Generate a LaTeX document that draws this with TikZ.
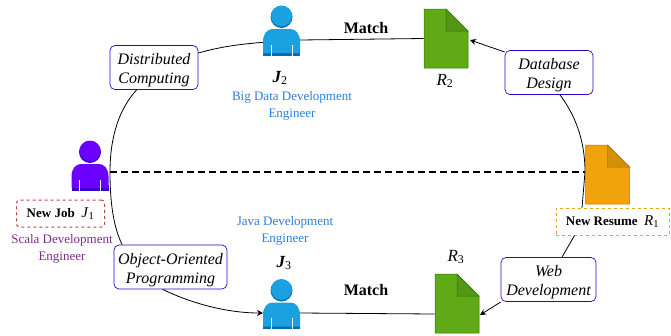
\documentclass[tikz,border=0pt]{standalone}
\usepackage{fontspec}
\setmainfont{Liberation Serif}
\usetikzlibrary{arrows.meta}
\definecolor{jobpurple}{HTML}{6A00FF}
\definecolor{jobdark}{HTML}{3700CC}
\definecolor{jobblue}{HTML}{1BA1E2}
\definecolor{jobbluedark}{HTML}{006EAF}
\definecolor{resgreen}{HTML}{60A917}
\definecolor{resgreendark}{HTML}{2D7600}
\definecolor{resorange}{HTML}{F0A30A}
\definecolor{resorangedark}{HTML}{BD7000}
\definecolor{scalatext}{HTML}{7F2A8A}
\definecolor{titleblue}{HTML}{2A7FD8}
\tikzset{
  skillbox/.style={draw=jobdark, line width=0.7pt, rounded corners=5pt, fill=white, align=center, font=\fontsize{16}{19}\selectfont\itshape, inner sep=0pt, text height=36pt},
  anchorbox/.style={inner sep=0pt, outer sep=0pt, minimum width=#1},
  titlelabel/.style={align=center, font=\fontsize{13}{17.5}\selectfont},
  namelabel/.style={font=\fontsize{17}{20}\selectfont\itshape},
  matchlabel/.style={font=\fontsize{16}{19}\selectfont\bfseries},
  newlabel/.style={dashed, line width=1pt, inner sep=0pt, font=\fontsize{13}{15}\selectfont},
  link/.style={line width=0.8pt, -{Stealth[length=6pt,width=6pt]}},
  plainlink/.style={line width=0.8pt},
  pics/person/.style n args={2}{code={
    \fill[#2] (-18.5,0) -- (18.5,0) -- (18.5,-6) -- (-18.5,-6) -- cycle;
    \fill[#1] (-18.5,-2.5) -- (-18.5,-14) .. controls (-18.5,-22) and (-14,-26.5) .. (-9,-26.5) -- (9,-26.5) .. controls (14,-26.5) and (18.5,-22) .. (18.5,-14) -- (18.5,-2.5) -- cycle;
    \fill[#2] (0,-38.5) circle (11);
    \fill[#1] (0,-39.5) circle (10.5);
    \fill[white] (-11,-11) rectangle (-10.3,0);
    \fill[white] (10.3,-11) rectangle (11,0);
  }},
  pics/resume/.style n args={2}{code={
    \fill[#1, draw=#2, line width=0.5pt] (-22,-29.5) -- (0,-29.5) -- (22,-7.5) -- (22,29.5) -- (-22,29.5) -- cycle;
    \fill[#1!88!black, draw=#2, line width=0.5pt] (0,-29.5) -- (22,-7.5) -- (0,-7.5) -- cycle;
  }}
}
\begin{document}
\begin{tikzpicture}[x=1pt,y=-1pt]
  \useasboundingbox (0,0) rectangle (671,335);
  % people and resumes
  \node[anchorbox=40pt, minimum height=53pt] (j1) at (90,164) {};
  \node[anchorbox=37pt, minimum height=49pt] (j2) at (281.5,31) {};
  \node[anchorbox=37pt, minimum height=49pt] (j3) at (281.5,304.5) {};
  \node[anchorbox=45pt, minimum height=59pt] (r1) at (607.5,174.5) {};
  \node[anchorbox=45pt, minimum height=59pt] (r2) at (446,38.5) {};
  \node[anchorbox=45pt, minimum height=59pt] (r3) at (457,303.5) {};
  % skills
  \node[skillbox, minimum width=88pt, minimum height=44pt] (distributed) at (154,67.5) {Distributed\\Computing};
  \node[skillbox, minimum width=88pt, minimum height=44pt] (database) at (549,72.5) {Database\\Design};
  \node[skillbox, minimum width=113pt, minimum height=44pt] (oop) at (170.5,267) {Object-Oriented\\Programming};
  \node[skillbox, minimum width=95pt, minimum height=44pt] (web) at (548.5,279.5) {Web\\Development};
  % labels with a box
  \node[newlabel, draw=red!65!black!75, rounded corners=3pt, minimum width=88pt, minimum height=27pt] (newjob) at (60.5,213.5) {\textbf{New Job}\ \ {\fontsize{15}{15}\selectfont\textit{J}\textsubscript{1}}};
  \node[newlabel, draw=resorange, minimum width=113pt, minimum height=27pt] (newresume) at (612.5,221.5) {\textbf{New Resume}\ \ {\fontsize{15}{15}\selectfont\textit{R}\textsubscript{1}}};
  % links
  \coordinate (leftmid) at (110,172);
  \coordinate (rightmid) at (585,172);
  \coordinate (ooptop) at ([xshift=8.5pt]oop.north west);
  \coordinate (webtop) at ([xshift=13.5pt]web.north);
  \coordinate (resumeout) at ([xshift=-38pt]newresume.south);
  \draw[plainlink] (distributed.south west) ++(27,0) .. controls (120,108) and (110,135) .. (leftmid);
  \draw[plainlink] (leftmid) .. controls (110,205) and (114,228) .. (ooptop);
  \draw[link] (distributed.east |- 198,53) .. controls (220,47) and (240,43) .. (j2.east |- 263,40);
  \draw[link] (oop.south) ++(-8,0) .. controls (195,305) and (230,313) .. (263,313);
  \draw[plainlink] (j2.east |- 300,40) -- (r2.west);
  \draw[plainlink] (300,313) -- (r3.west |- 435,314);
  \draw[link] (database.west |- 505,52) -- (470,40);
  \draw[link] (web.west |- 510,302) -- (480,315);
  \draw[plainlink] (database.south) ++(11,0) .. controls (575,115) and (585,140) .. (rightmid);
  \draw[plainlink] (rightmid) -- (582,208);
  \draw[plainlink] (resumeout) -- (webtop);
  \draw[line width=1.5pt, dash pattern=on 7pt off 4pt] (leftmid) -- (rightmid);
  % icons
  \begin{scope}[shift={(j1.south)}, scale=1.08]
    \pic {person={jobpurple}{jobdark}};
  \end{scope}
  \pic at (j2.south) {person={jobblue}{jobbluedark}};
  \pic at (j3.south) {person={jobblue}{jobbluedark}};
  \pic at (r1) {resume={resorange}{resorangedark}};
  \pic at (r2) {resume={resgreen}{resgreendark}};
  \pic at (r3) {resume={resgreen}{resgreendark}};
  % labels
  \node[titlelabel, text=scalatext] (scala) at (62,249) {Scala Development\\Engineer};
  \node[titlelabel, text=titleblue] (bigdata) at (292,106) {Big Data Development\\Engineer};
  \node[titlelabel, text=titleblue] (java) at (285,231) {Java Development\\Engineer};
  \node[namelabel] (j2label) at (280,78) {\textbf{J}\textsubscript{\upshape 2}};
  \node[namelabel] (j3label) at (284,263) {\textbf{J}\textsubscript{\upshape 3}};
  \node[namelabel] (r2label) at (445,81) {R\textsubscript{\upshape 2}};
  \node[namelabel] (r3label) at (456,257) {R\textsubscript{\upshape 3}};
  \node[matchlabel] (match1) at (366,28) {Match};
  \node[matchlabel] (match2) at (366,290) {Match};
\end{tikzpicture}
\end{document}
